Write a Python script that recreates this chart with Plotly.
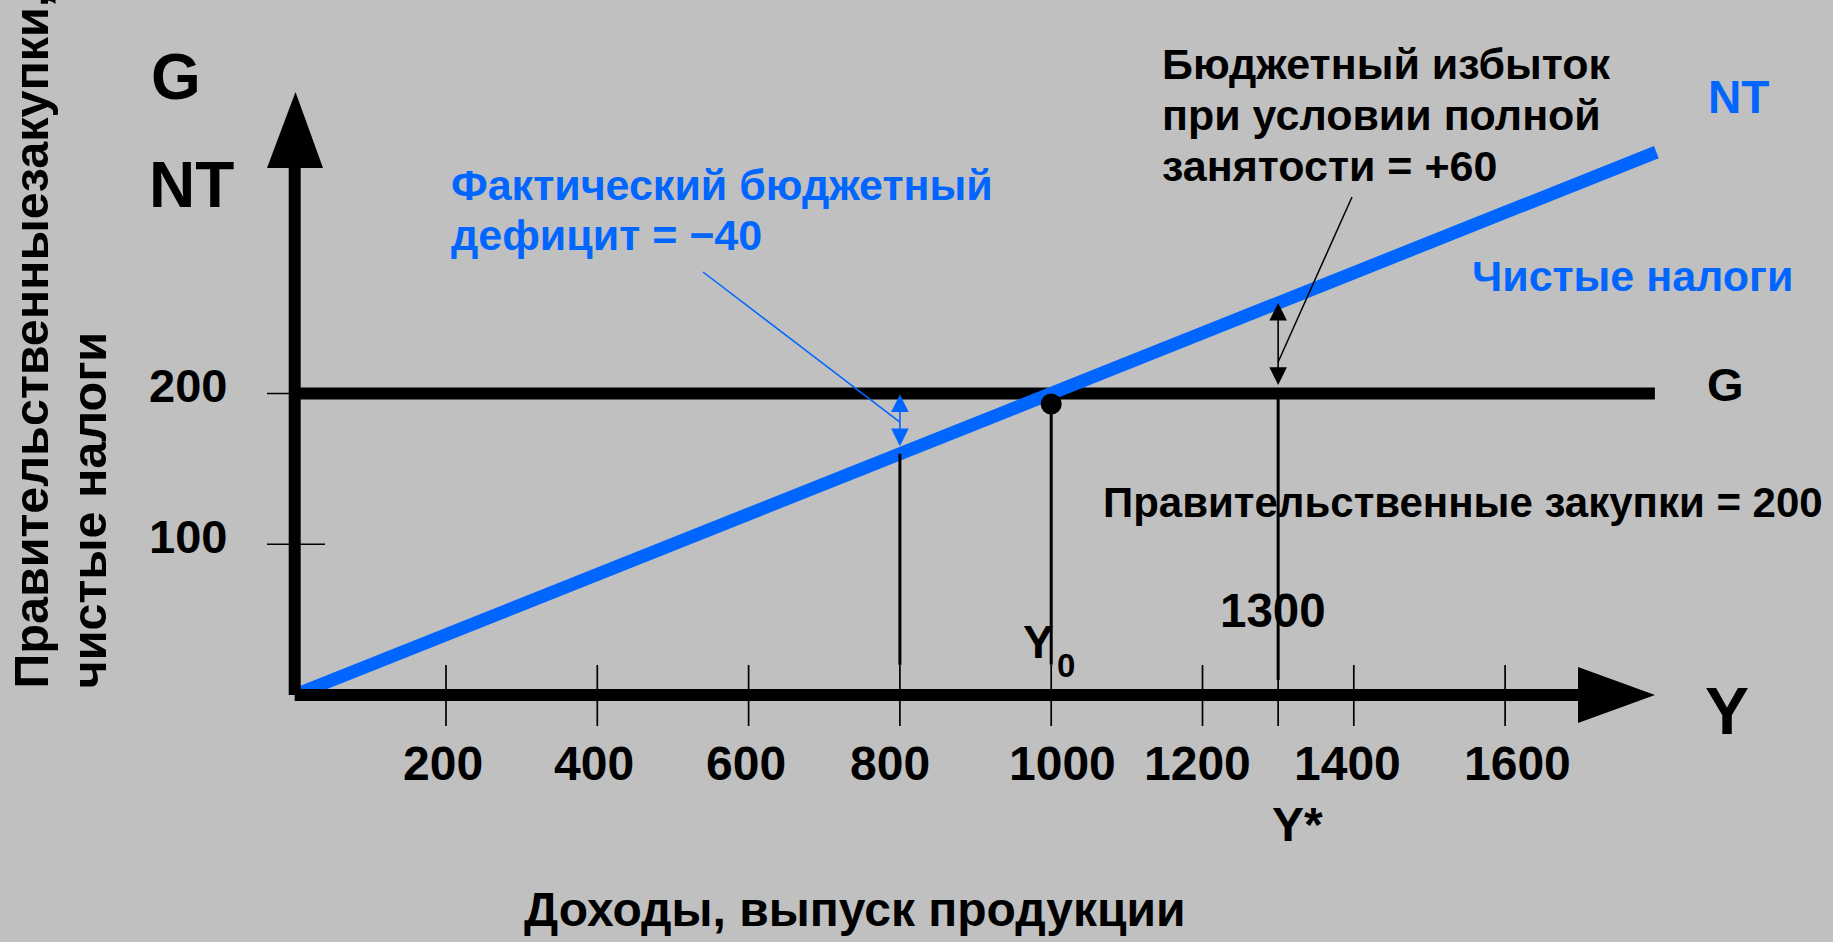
import plotly.graph_objects as go

# ---------------- data ----------------
nt_income = [0, 1800]          # net taxes line
nt_values = [0, 360]
g_income = [0, 1798]           # government purchases line
g_values = [200, 200]

x_tick_values = [200, 400, 600, 800, 1000, 1200, 1300, 1400, 1600]
x_tick_labels = ["200", "400", "600", "800", "1000", "1200", "", "1400", "1600"]
y_tick_values = [100, 200]
y_tick_labels = ["100", "200"]

actual_income = 800            # actual output
actual_nt = 160                # NT at actual output  (deficit -40)
equilibrium_income = 1000      # Y0
equilibrium_point = 193        # dot drawn at Y0
full_emp_income = 1300         # Y*
full_emp_nt = 260              # NT at Y*  (surplus +60)
gov_purchases = 200

drop_lines_x = [actual_income, equilibrium_income, full_emp_income]
drop_lines_top = [actual_nt, equilibrium_point, gov_purchases]
drop_lines_bottom = [20, 20, 10]

# ---------------- geometry / style ----------------
W, H = 1833, 942
X0, SX = 294.7, 0.7565   # pixel position of x=0, px per unit
Y0, SY = 695.0, 1.508    # pixel position of y=0, px per unit
x_range = [-X0 / SX, (W - X0) / SX]
y_range = [-(H - Y0) / SY, Y0 / SY]
tick_label_xshift = [-3, -3, -3, -10, 11, -5, 0, -6, 12]   # hand placement of labels (px)

def px2x(px):
    return (px - X0) / SX

def py2y(py):
    return (Y0 - py) / SY

BG = "#C0C0C0"
BLUE = "#0066FF"
BLACK = "#000000"
FONT = "Liberation Sans, Arial, sans-serif"

fig = go.Figure()

# G line
fig.add_trace(go.Scatter(x=g_income, y=g_values, mode="lines",
                         line=dict(color=BLACK, width=12), hoverinfo="skip"))
# NT line
fig.add_trace(go.Scatter(x=nt_income, y=nt_values, mode="lines",
                         line=dict(color=BLUE, width=13), hoverinfo="skip"))
# drop lines
for xv, top, bot in zip(drop_lines_x, drop_lines_top, drop_lines_bottom):
    fig.add_trace(go.Scatter(x=[xv, xv], y=[top, bot], mode="lines",
                             line=dict(color=BLACK, width=3), hoverinfo="skip"))
# leader lines
fig.add_trace(go.Scatter(x=[px2x(703), actual_income], y=[py2y(272), (actual_nt + gov_purchases) / 2 + 1],
                         mode="lines", line=dict(color=BLUE, width=1.5), hoverinfo="skip"))
fig.add_trace(go.Scatter(x=[px2x(1352), full_emp_income], y=[py2y(197), py2y(362)],
                         mode="lines", line=dict(color=BLACK, width=1.5), hoverinfo="skip"))
# equilibrium dot
fig.add_trace(go.Scatter(x=[equilibrium_income], y=[equilibrium_point], mode="markers",
                         marker=dict(color=BLACK, size=21), hoverinfo="skip"))

shapes = []
# axes
shapes.append(dict(type="line", xref="x", yref="y", x0=0, x1=0, y0=0, y1=py2y(166),
                   line=dict(color=BLACK, width=12), layer="above"))
shapes.append(dict(type="line", xref="x", yref="y", x0=0, x1=px2x(1580), y0=0, y1=0,
                   line=dict(color=BLACK, width=12), layer="above"))
# axis arrowheads
shapes.append(dict(type="path", xref="x", yref="y", layer="above",
                   path=f"M {px2x(267)},{py2y(168)} L {px2x(295.5)},{py2y(92)} L {px2x(323)},{py2y(168)} Z",
                   fillcolor=BLACK, line=dict(color=BLACK, width=0)))
shapes.append(dict(type="path", xref="x", yref="y", layer="above",
                   path=f"M {px2x(1578)},{py2y(667)} L {px2x(1655)},{py2y(695)} L {px2x(1578)},{py2y(723)} Z",
                   fillcolor=BLACK, line=dict(color=BLACK, width=0)))
# x ticks
for xv in x_tick_values:
    shapes.append(dict(type="line", xref="x", yref="y", x0=xv, x1=xv, y0=py2y(665), y1=py2y(726),
                       line=dict(color=BLACK, width=1.7), layer="above"))
# y ticks
for yv in y_tick_values:
    shapes.append(dict(type="line", xref="x", yref="y", x0=px2x(267), x1=px2x(325), y0=yv, y1=yv,
                       line=dict(color=BLACK, width=1.5), layer="above"))

ann = []

def txt(text, px, py, size, color=BLACK, xanchor="left", yanchor="middle", angle=0):
    ann.append(dict(text=f"<b>{text}</b>", xref="paper", yref="paper",
                    x=px / W, y=1 - py / H, xanchor=xanchor, yanchor=yanchor,
                    showarrow=False, textangle=angle, borderpad=0,
                    font=dict(family=FONT, size=size, color=color)))

# y tick labels
for yv, lab in zip(y_tick_values, y_tick_labels):
    ann.append(dict(text=f"<b>{lab}</b>", xref="paper", yref="y", x=148 / W, y=yv, yshift=8,
                    xanchor="left", yanchor="middle", showarrow=False, borderpad=0,
                    font=dict(family=FONT, size=47, color=BLACK)))
# x tick labels
for xv, lab, dx in zip(x_tick_values, x_tick_labels, tick_label_xshift):
    if lab:
        ann.append(dict(text=f"<b>{lab}</b>", xref="x", yref="y", x=xv, y=0, yshift=-68, xshift=dx,
                        xanchor="center", yanchor="middle", showarrow=False, borderpad=0,
                        font=dict(family=FONT, size=48, color=BLACK)))
# 1300 label and Y*
ann.append(dict(text=f"<b>{full_emp_income}</b>", xref="x", yref="y", x=full_emp_income, y=0,
                xshift=-5, yshift=85, xanchor="center", yanchor="middle", showarrow=False,
                borderpad=0, font=dict(family=FONT, size=47.5, color=BLACK)))
ann.append(dict(text="<b>Y*</b>", xref="x", yref="y", x=full_emp_income, y=0,
                xshift=19, yshift=-129, xanchor="center", yanchor="middle", showarrow=False,
                borderpad=0, font=dict(family=FONT, size=48, color=BLACK)))
# Y0
ann.append(dict(text="<b>Y</b>", xref="x", yref="y", x=equilibrium_income, y=0,
                xshift=4, yshift=53, xanchor="right", yanchor="middle", showarrow=False,
                borderpad=0, font=dict(family=FONT, size=46, color=BLACK)))
ann.append(dict(text="<b>0</b>", xref="x", yref="y", x=equilibrium_income, y=0,
                xshift=5, yshift=30, xanchor="left", yanchor="middle", showarrow=False,
                borderpad=0, font=dict(family=FONT, size=33, color=BLACK)))
# G label at right
ann.append(dict(text="<b>G</b>", xref="paper", yref="y", x=1706 / W, y=gov_purchases, yshift=9,
                xanchor="left", yanchor="middle", showarrow=False, borderpad=0,
                font=dict(family=FONT, size=47, color=BLACK)))

txt("G", 150, 77, 64)
txt("NT", 148, 185, 64)
txt("Y", 1704, 711, 66)
txt("NT", 1707, 97, 46, BLUE)
txt("Чистые налоги", 1471, 276, 43, BLUE)
txt("Бюджетный избыток", 1161, 64, 43)
txt("при условии полной", 1161, 115, 43)
txt("занятости = +60", 1161, 166, 43)
txt("Фактический бюджетный", 450, 185, 43, BLUE)
txt("дефицит = −40", 450, 235, 43, BLUE)
txt("Правительственные закупки = 200", 1102, 502, 42)
txt("Доходы, выпуск продукции", 855, 909, 48, xanchor="center")
txt("Правительственныезакупки,", 30, 690, 48.5, xanchor="center", yanchor="bottom", angle=-90)
txt("чистые налоги", 88, 690, 48.5, xanchor="center", yanchor="bottom", angle=-90)

# double arrows
ann.append(dict(text="", xref="x", yref="y", axref="x", ayref="y",
                x=actual_income, y=gov_purchases, ax=actual_income, ay=actual_nt,
                showarrow=True, arrowside="end+start", arrowhead=2, arrowsize=2.2,
                arrowwidth=1.6, arrowcolor=BLUE, standoff=1, startstandoff=6))
ann.append(dict(text="", xref="x", yref="y", axref="x", ayref="y",
                x=full_emp_income, y=full_emp_nt, ax=full_emp_income, ay=gov_purchases,
                showarrow=True, arrowside="end+start", arrowhead=2, arrowsize=2.2,
                arrowwidth=1.6, arrowcolor=BLACK, standoff=0, startstandoff=7))

fig.update_layout(
    width=W, height=H,
    margin=dict(l=0, r=0, t=0, b=0),
    paper_bgcolor=BG, plot_bgcolor=BG,
    showlegend=False,
    xaxis=dict(range=x_range, visible=False, fixedrange=True),
    yaxis=dict(range=y_range, visible=False, fixedrange=True),
    shapes=shapes, annotations=ann,
)

fig.write_html("out.html", config={"displayModeBar": False},
               post_script="document.body.style.margin='0';document.body.style.overflow='hidden';")
